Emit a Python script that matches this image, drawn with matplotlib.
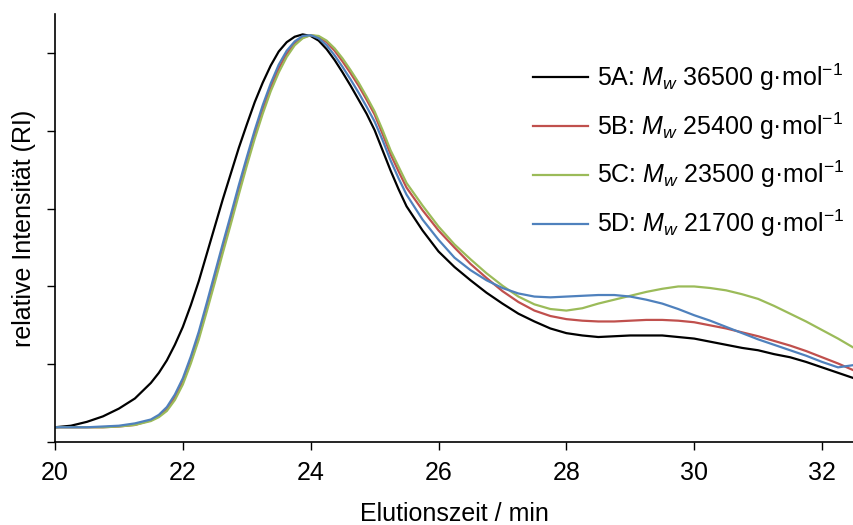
import matplotlib
matplotlib.use("Agg")
import matplotlib.pyplot as plt
import numpy as np

# Elutionszeit (min): every 0.25 min, every 0.125 min around the main peak
zeit = np.r_[np.arange(20.0, 21.49, 0.25),
             np.arange(21.5, 25.49, 0.125),
             np.arange(25.5, 32.51, 0.25)]

# relative Intensität (RI)
ri_5a = [0.19, 0.21, 0.26, 0.33, 0.43, 0.56,
         0.76, 0.89, 1.05, 1.25, 1.48, 1.76, 2.07, 2.42, 2.77, 3.12, 3.45, 3.78,
         4.08, 4.37, 4.62, 4.84, 5.02, 5.14, 5.21, 5.24, 5.22, 5.16, 5.05, 4.91,
         4.75, 4.58, 4.40, 4.22, 4.01, 3.75, 3.49, 3.25,
         3.03, 2.72, 2.45, 2.25, 2.08, 1.92, 1.78, 1.65, 1.55, 1.46, 1.40, 1.37,
         1.35, 1.36, 1.37, 1.37, 1.37, 1.35, 1.33, 1.29, 1.25, 1.21, 1.18, 1.13,
         1.09, 1.03, 0.96, 0.89, 0.82]
ri_5b = [0.19, 0.19, 0.19, 0.19, 0.20, 0.22,
         0.28, 0.33, 0.42, 0.57, 0.77, 1.05, 1.36, 1.73, 2.10, 2.48, 2.85, 3.23,
         3.60, 3.95, 4.27, 4.56, 4.80, 4.99, 5.12, 5.20, 5.23, 5.21, 5.14, 5.03,
         4.89, 4.74, 4.58, 4.40, 4.21, 3.96, 3.70, 3.48,
         3.27, 2.98, 2.72, 2.50, 2.29, 2.11, 1.94, 1.80, 1.69, 1.62, 1.58, 1.56,
         1.55, 1.55, 1.56, 1.57, 1.57, 1.56, 1.54, 1.50, 1.46, 1.41, 1.36, 1.30,
         1.24, 1.17, 1.09, 1.01, 0.92]
ri_5c = [0.19, 0.19, 0.19, 0.19, 0.20, 0.22,
         0.27, 0.32, 0.40, 0.54, 0.74, 1.01, 1.32, 1.68, 2.05, 2.43, 2.80, 3.18,
         3.55, 3.90, 4.22, 4.51, 4.75, 4.95, 5.10, 5.19, 5.23, 5.22, 5.16, 5.06,
         4.93, 4.78, 4.62, 4.44, 4.25, 4.01, 3.75, 3.54,
         3.33, 3.04, 2.77, 2.54, 2.35, 2.17, 2.01, 1.87, 1.77, 1.71, 1.69, 1.72,
         1.78, 1.83, 1.88, 1.93, 1.97, 2.00, 2.00, 1.98, 1.95, 1.90, 1.84, 1.75,
         1.65, 1.55, 1.44, 1.33, 1.21]
ri_5d = [0.19, 0.19, 0.19, 0.20, 0.21, 0.24,
         0.29, 0.35, 0.45, 0.61, 0.82, 1.10, 1.42, 1.79, 2.17, 2.55, 2.92, 3.30,
         3.66, 4.01, 4.33, 4.61, 4.85, 5.03, 5.15, 5.22, 5.23, 5.19, 5.10, 4.97,
         4.82, 4.66, 4.49, 4.31, 4.12, 3.88, 3.62, 3.39,
         3.18, 2.86, 2.60, 2.37, 2.21, 2.08, 1.98, 1.91, 1.87, 1.86, 1.87, 1.88,
         1.89, 1.89, 1.87, 1.83, 1.78, 1.71, 1.63, 1.56, 1.48, 1.40, 1.32, 1.25,
         1.18, 1.11, 1.03, 0.96, 0.99]

labels = [r"5A: $M_w$ 36500 g·mol$^{-1}$",
          r"5B: $M_w$ 25400 g·mol$^{-1}$",
          r"5C: $M_w$ 23500 g·mol$^{-1}$",
          r"5D: $M_w$ 21700 g·mol$^{-1}$"]
farben = ["#000000", "#C0504D", "#9BBB59", "#4F81BD"]

plt.rcParams["font.family"] = ["Liberation Sans", "DejaVu Sans"]
plt.rcParams["mathtext.fontset"] = "custom"
plt.rcParams["mathtext.rm"] = "Liberation Sans"
plt.rcParams["mathtext.it"] = "Liberation Sans:italic"
plt.rcParams["font.size"] = 18

fig = plt.figure(figsize=(8.54, 5.25), dpi=100)
ax = fig.add_axes([0.0644, 0.158, 0.9356, 0.815])

for werte, farbe, lab in zip([ri_5a, ri_5b, ri_5c, ri_5d], farben, labels):
    ax.plot(zeit, werte, color=farbe, lw=1.6, label=lab, solid_joinstyle="round")

ax.set_xlim(20, 32.5)
ax.set_ylim(0, 5.5)
ax.set_xticks([20, 22, 24, 26, 28, 30, 32])
ax.set_yticks([0, 1, 2, 3, 4, 5])
ax.set_yticklabels([])
ax.tick_params(direction="out", length=6, width=1, colors="black", pad=8)
ax.spines["top"].set_visible(False)
ax.spines["right"].set_visible(False)
for s in ["left", "bottom"]:
    ax.spines[s].set_linewidth(1.2)

ax.set_xlabel("Elutionszeit / min", labelpad=12)
ax.set_ylabel("relative Intensität (RI)", labelpad=0)

ax.legend(loc="upper right", bbox_to_anchor=(0.988, 0.89), frameon=False,
          handlelength=2.2, handletextpad=0.36, labelspacing=0.7,
          borderpad=0, borderaxespad=0)

fig.savefig("out.png", dpi=100)
